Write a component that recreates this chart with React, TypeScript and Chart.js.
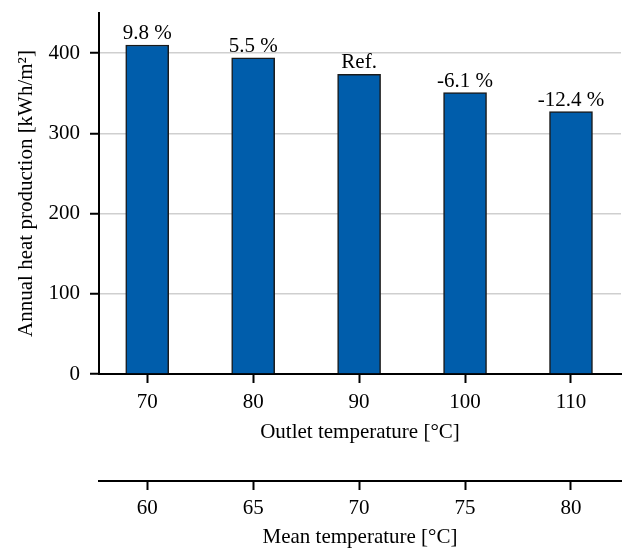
import React, { useEffect, useRef } from "react";
import { Chart, registerables } from "chart.js";

Chart.register(...registerables);

// Data
const outletTemps = [70, 80, 90, 100, 110];
const heatProduction = [410.1, 394.0, 373.5, 350.7, 327.2];
const changeLabels = ["9.8 %", "5.5 %", "Ref.", "-6.1 %", "-12.4 %"];
const yTicks = [0, 100, 200, 300, 400];
const meanTemps = [60, 65, 70, 75, 80];

const FONT_FAMILY = "'Liberation Serif', 'Times New Roman', serif";

export default function App() {
  const ref = useRef<HTMLCanvasElement>(null);

  useEffect(() => {
    if (!ref.current) return;
    const font = { family: FONT_FAMILY, size: 21 };

    const labelPlugin = {
      id: "barLabels",
      afterDatasetsDraw(chart: any) {
        const ctx = chart.ctx;
        const meta = chart.getDatasetMeta(0);
        ctx.save();
        ctx.font = `21px ${FONT_FAMILY}`;
        ctx.fillStyle = "#000";
        ctx.textAlign = "center";
        ctx.textBaseline = "alphabetic";
        meta.data.forEach((el: any, i: number) => {
          ctx.fillText(changeLabels[i], el.x, el.y - 6);
        });
        ctx.restore();
      },
    };

    const chart = new Chart(ref.current, {
      type: "bar",
      data: {
        datasets: [
          {
            data: outletTemps.map((x, i) => ({ x, y: heatProduction[i] })),
            backgroundColor: "#005dab",
            borderColor: "#1a1a1a",
            borderWidth: 1.5,
            barThickness: 43,
            xAxisID: "x",
            yAxisID: "y",
          },
        ],
      },
      options: {
        animation: false,
        responsive: false,
        layout: { padding: { top: 13, right: 2, left: 0, bottom: 0 } },
        plugins: {
          legend: { display: false },
          tooltip: { enabled: false },
        },
        scales: {
          x: {
            type: "linear",
            position: "bottom",
            offset: false,
            min: 65.45,
            max: 114.72,
            afterBuildTicks: (s: any) => {
              s.ticks = outletTemps.map((v) => ({ value: v }));
            },
            afterFit: (s: any) => {
              s.height = 107;
              s.paddingLeft = 0;
              s.paddingRight = 0;
            },
            grid: {
              offset: false,
              drawOnChartArea: false,
              drawTicks: true,
              tickLength: 9,
              tickColor: "#000",
              tickWidth: 2,
            },
            border: { color: "#000", width: 2 },
            ticks: { font, color: "#000", padding: 7, autoSkip: false, maxRotation: 0 },
            title: {
              display: true,
              text: "Outlet temperature [°C]",
              font,
              color: "#000",
              padding: { top: 0, bottom: 36 },
            },
          },
          x2: {
            type: "linear",
            position: "bottom",
            weight: 1,
            offset: false,
            min: 57.725,
            max: 82.36,
            afterBuildTicks: (s: any) => {
              s.ticks = meanTemps.map((v) => ({ value: v }));
            },
            afterFit: (s: any) => {
              s.height = 69;
              s.paddingLeft = 0;
              s.paddingRight = 0;
            },
            grid: {
              offset: false,
              drawOnChartArea: false,
              drawTicks: true,
              tickLength: 9,
              tickColor: "#000",
              tickWidth: 2,
            },
            border: { color: "#000", width: 2 },
            ticks: { font, color: "#000", padding: 6, autoSkip: false, maxRotation: 0 },
            title: {
              display: true,
              text: "Mean temperature [°C]",
              font,
              color: "#000",
              padding: { top: 0, bottom: 0 },
            },
          },
          y: {
            type: "linear",
            min: 0,
            max: 450,
            afterBuildTicks: (s: any) => {
              s.ticks = yTicks.map((v) => ({ value: v }));
            },
            afterFit: (s: any) => {
              s.width = 99;
              s.paddingTop = 0;
              s.paddingBottom = 0;
            },
            grid: {
              color: (c: any) => (c.tick && c.tick.value === 0 ? "rgba(0,0,0,0)" : "#cfcfcf"),
              lineWidth: 1.5,
              drawTicks: true,
              tickLength: 9,
              tickColor: "#000",
              tickWidth: 2,
            },
            border: { color: "#000", width: 2 },
            ticks: { font, color: "#000", padding: 10 },
            title: {
              display: true,
              text: "Annual heat production [kWh/m²]",
              font,
              color: "#000",
              padding: { top: 14, bottom: 0 },
            },
          },
        },
      } as any,
      plugins: [labelPlugin],
    });

    return () => chart.destroy();
  }, []);

  return (
    <div style={{ position: "absolute", left: 0, top: 0, width: 623, height: 550, background: "#fff" }}>
      <canvas ref={ref} width={623} height={550} style={{ display: "block" }} />
    </div>
  );
}
